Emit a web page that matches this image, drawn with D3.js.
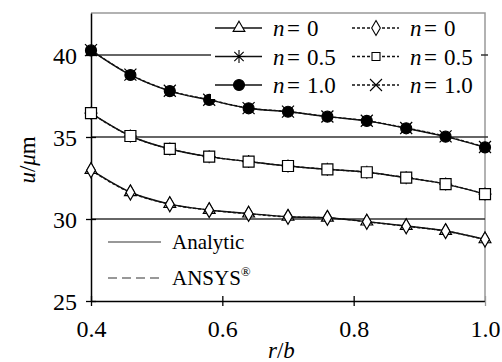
<!DOCTYPE html>
<meta charset='utf-8'>
<style>
    body { margin: 0; background: #fff; }
    svg text { font-family: 'Liberation Serif', 'Times New Roman', serif; fill: #000; }
</style>
<body>
<script src='https://d3js.org/d3.v7.min.js'></script>
<script>
    var width = 502,
        height = 362;
    var serif = 'Liberation Serif';

    // r/b positions
    var rb = [0.4, 0.46, 0.52, 0.58, 0.64, 0.7, 0.76, 0.82, 0.88, 0.94, 1.0];

    // analytic
    var an0  = [32.99, 31.63, 30.91, 30.55, 30.33, 30.14, 30.08, 29.84, 29.57, 29.27, 28.76];
    var an05 = [36.45, 35.06, 34.27, 33.8, 33.5, 33.23, 33.03, 32.85, 32.52, 32.13, 31.52];
    var an10 = [40.28, 38.78, 37.8, 37.26, 36.75, 36.54, 36.24, 35.98, 35.53, 35.02, 34.37];

    // ANSYS
    var fe0  = [32.97, 31.62, 30.9, 30.54, 30.32, 30.13, 30.07, 29.83, 29.56, 29.26, 28.75];
    var fe05 = [36.45, 35.06, 34.27, 33.8, 33.5, 33.23, 33.03, 32.85, 32.52, 32.13, 31.52];
    var fe10 = [40.3, 38.8, 37.82, 37.27, 36.76, 36.55, 36.25, 35.99, 35.55, 35.04, 34.39];

    var xTicks = [0.4, 0.6, 0.8, 1.0];
    var yTicks = [25, 30, 35, 40];
    var gridVals = [30, 35, 40];

    var margin = {left: 91, right: 17, top: 13, bottom: 61};

    var svg = d3.select('body').append('svg')
        .attr('width', width)
        .attr('height', height)
        .attr('font-family', serif);

    var x = d3.scaleLinear().domain([0.4, 1.0]).range([margin.left, width - margin.right]);
    var y = d3.scaleLinear().domain([25, 42.56]).range([height - margin.bottom, margin.top]);

    // frame (top/right)
    svg.append('path')
        .attr('d', 'M' + x(0.4) + ',' + y(42.56) + 'H' + x(1.0) + 'V' + y(25))
        .attr('fill', 'none').attr('stroke', '#999').attr('stroke-width', 1.5);

    // grid lines
    svg.selectAll('.grid').data(gridVals).enter().append('line')
        .attr('x1', x(0.4)).attr('x2', function(d) { return x(1.0) + (d === 30 ? 0 : 3); })
        .attr('y1', function(d) { return y(d); })
        .attr('y2', function(d) { return y(d); })
        .attr('stroke', '#333').attr('stroke-width', 1.3);

    // axes
    var gy = svg.append('g').attr('transform', 'translate(' + x(0.4) + ',0)')
        .call(d3.axisLeft(y).tickValues(yTicks).tickSizeInner(5).tickSizeOuter(0)
            .tickFormat(d3.format('d')));
    gy.attr('font-family', serif).attr('font-size', 24);
    gy.select('.domain').attr('stroke-width', 1.5);
    gy.selectAll('.tick line').attr('x2', 5).attr('x1', -5).attr('stroke-width', 1.3);
    gy.selectAll('.tick text').attr('x', -14).attr('dy', '0.34em');

    var gx = svg.append('g').attr('transform', 'translate(0,' + y(25) + ')')
        .call(d3.axisBottom(x).tickValues(xTicks).tickSizeInner(5).tickSizeOuter(0)
            .tickFormat(d3.format('.1f')));
    gx.attr('font-family', serif).attr('font-size', 24);
    gx.select('.domain').attr('stroke-width', 1.5);
    gx.selectAll('.tick line').attr('y1', -5).attr('y2', 5).attr('stroke-width', 1.3);
    gx.selectAll('.tick text').attr('y', 19).attr('dy', '0.71em');
    gx.selectAll('.tick line').filter(function(d) { return d === 1.0; }).attr('stroke', '#999');

    // axis titles
    svg.append('text')
        .attr('transform', 'translate(35,' + y(33.6) + ') rotate(-90)')
        .attr('text-anchor', 'middle')
        .attr('font-size', 23)
        .html('<tspan font-style="italic">u</tspan>/<tspan font-style="italic">μ</tspan>m');
    svg.append('text')
        .attr('x', x(0.69)).attr('y', 358)
        .attr('text-anchor', 'middle')
        .attr('font-size', 23)
        .html('<tspan font-style="italic">r</tspan>/<tspan font-style="italic">b</tspan>');

    // marker helpers
    function asterisk(s) {
        var r = s / 2, d = r * 0.72;
        return 'M' + (-r) + ',0H' + r + 'M0,' + (-r) + 'V' + r +
            'M' + (-d) + ',' + (-d) + 'L' + d + ',' + d + 'M' + (-d) + ',' + d + 'L' + d + ',' + (-d);
    }
    function xmark(s) {
        var d = s / 2;
        return 'M' + (-d) + ',' + (-d) + 'L' + d + ',' + d + 'M' + (-d) + ',' + d + 'L' + d + ',' + (-d);
    }
    var markers = {
        tri:  { d: d3.symbol(d3.symbolTriangle, 60)(), fill: '#fff' },
        star: { d: asterisk(13), fill: 'none' },
        dot:  { d: d3.symbol(d3.symbolCircle, 95)(), fill: '#000' },
        dia:  { d: d3.symbol(d3.symbolDiamond, 65)(), fill: '#fff' },
        sq:   { d: d3.symbol(d3.symbolSquare, 121)(), fill: '#fff' },
        xx:   { d: xmark(12), fill: 'none' }
    };

    var series = [
        { vals: an0,  dash: null,  m: 'tri' },
        { vals: an05, dash: null,  m: 'star' },
        { vals: an10, dash: null,  m: 'dot' },
        { vals: fe0,  dash: '3,2', m: 'dia' },
        { vals: fe05, dash: '3,2', m: 'sq' },
        { vals: fe10, dash: '3,2', m: 'xx' }
    ];

    var line = d3.line()
        .x(function(d, i) { return x(rb[i]); })
        .y(function(d) { return y(d); })
        .curve(d3.curveMonotoneX);

    series.forEach(function(s) {
        svg.append('path')
            .attr('d', line(s.vals))
            .attr('fill', 'none').attr('stroke', '#111').attr('stroke-width', 1.4)
            .attr('stroke-dasharray', s.dash);
    });
    series.forEach(function(s) {
        var mk = markers[s.m];
        svg.selectAll(null).data(s.vals).enter().append('path')
            .attr('transform', function(d, i) { return 'translate(' + x(rb[i]) + ',' + y(d) + ')'; })
            .attr('d', mk.d)
            .attr('fill', mk.fill).attr('stroke', '#000').attr('stroke-width', 1.2);
    });

    // legend (top right)
    var leg = svg.append('g');
    leg.append('rect').attr('x', 211).attr('y', 15).attr('width', 270).attr('height', 84).attr('fill', '#fff');
    var legItems = [
        { col: 0, row: 0, m: 'tri', dash: null, n: '0' },
        { col: 0, row: 1, m: 'star', dash: null, n: '0.5' },
        { col: 0, row: 2, m: 'dot', dash: null, n: '1.0' },
        { col: 1, row: 0, m: 'dia', dash: '3,2', n: '0' },
        { col: 1, row: 1, m: 'sq', dash: '3,2', n: '0.5' },
        { col: 1, row: 2, m: 'xx', dash: '3,2', n: '1.0' }
    ];
    legItems.forEach(function(it) {
        var lx = 215 + it.col * 137, ly = 28 + it.row * 28.5;
        leg.append('line').attr('x1', lx).attr('x2', lx + 47).attr('y1', ly).attr('y2', ly)
            .attr('stroke', '#111').attr('stroke-width', 1.3).attr('stroke-dasharray', it.dash);
        var mk = markers[it.m];
        var s = (it.m === 'sq') ? d3.symbol(d3.symbolSquare, 64)() : mk.d;
        leg.append('path').attr('transform', 'translate(' + (lx + 24) + ',' + ly + ')')
            .attr('d', s).attr('fill', mk.fill).attr('stroke', '#000').attr('stroke-width', 1.1);
        var t = leg.append('text').attr('y', ly + 8).attr('font-size', 23);
        t.append('tspan').attr('x', lx + 58).attr('font-style', 'italic').text('n');
        t.append('tspan').attr('x', lx + 72).text('=');
        t.append('tspan').attr('x', lx + 92).text(it.n);
    });

    // legend (bottom left)
    var leg2 = [
        { label: 'Analytic', dash: null },
        { label: 'ANSYS', dash: '9,5' }
    ];
    leg2.forEach(function(it, i) {
        var ly = 242 + i * 36;
        svg.append('line').attr('x1', 108).attr('x2', 161).attr('y1', ly).attr('y2', ly)
            .attr('stroke', '#333').attr('stroke-width', 1.2).attr('stroke-dasharray', it.dash);
        var t = svg.append('text').attr('x', 172).attr('y', ly + 7).attr('font-size', 21).text(it.label);
        if (i === 1) t.append('tspan').attr('dy', -9).attr('font-size', 13).text('®');
    });
</script>
</body>
